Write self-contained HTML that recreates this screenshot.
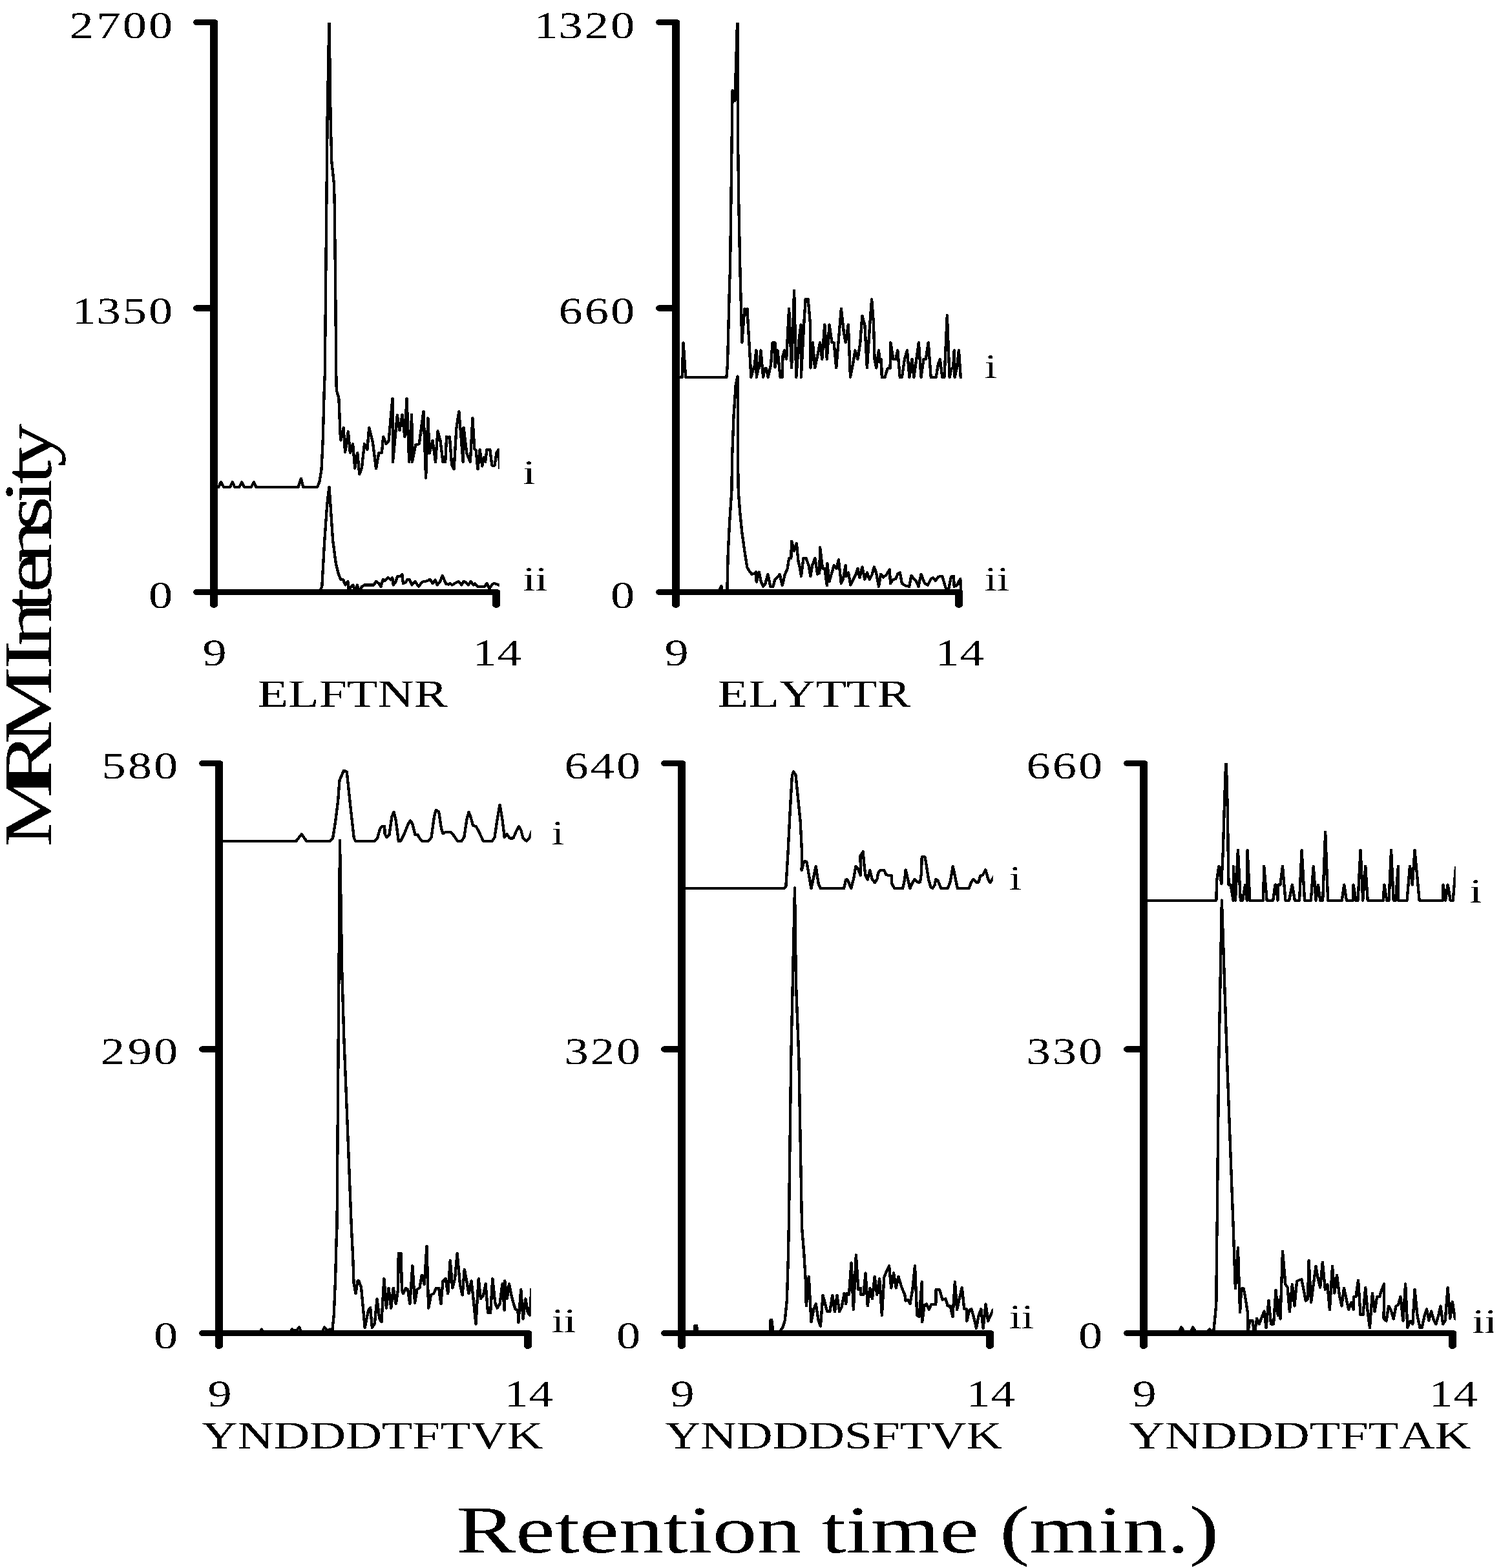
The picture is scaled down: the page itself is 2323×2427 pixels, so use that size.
<!DOCTYPE html>
<html lang="en"><head><meta charset="utf-8"><title>MRM chromatograms</title>
<style>html,body{margin:0;padding:0;background:#fff}body{width:2323px;height:2427px;overflow:hidden}svg{display:block}text{filter:url(#bin);font-family:"Liberation Serif", "DejaVu Serif", serif;fill:#000;white-space:pre;font-kerning:none;font-variant-ligatures:none;text-rendering:geometricPrecision}</style>
</head><body>
<svg xmlns="http://www.w3.org/2000/svg" width="2323" height="2427" viewBox="0 0 2323 2427">
<rect width="2323" height="2427" fill="#fff"/>
<defs>
<clipPath id="c1"><rect x="331" y="35" width="441.8" height="892"/></clipPath>
<clipPath id="c2"><rect x="1046" y="35" width="442.8" height="892"/></clipPath>
<clipPath id="c3"><rect x="339" y="1181" width="482.8" height="892"/></clipPath>
<clipPath id="c4"><rect x="1055" y="1181" width="481.8" height="892"/></clipPath>
<clipPath id="c5"><rect x="1770" y="1181" width="482.8" height="892"/></clipPath>
<clipPath id="cR"><rect x="0" y="0" width="2311.2" height="2427"/></clipPath>
<filter id="bin" x="-5%" y="-5%" width="110%" height="110%" color-interpolation-filters="sRGB"><feComponentTransfer><feFuncA type="discrete" tableValues="0 1"/></feComponentTransfer></filter>
</defs>
<g id="panel1">
<g clip-path="url(#c1)" fill="none" stroke="#000" stroke-width="4.1" stroke-linejoin="round" stroke-linecap="butt" shape-rendering="crispEdges">
<polyline transform="scale(1.06 1)" points="316.96,753.8 319.23,753.8 322.55,746.3 326.77,753.8 335.82,753.8 339.29,746.3 342.61,753.8 349.4,753.8 352.87,746.3 356.49,753.8 366.75,753.8 370.52,746.3 373.99,753.8 435.4,753.8 439.47,740.7 442.64,753.8 463.31,753.8 466.33,746.3 469.34,727.1 471.31,684 472.36,644 473.42,600.8 474.32,580 476.7,320 478.02,179 480.66,25 482.55,179 484.25,250 487.74,285 488.49,320 490,469 490.85,580 491.31,604 494.63,616 495.84,644 496.29,666.4 497.65,681.6 501.57,661.9 503.83,699.9 506.7,682.4 508.36,668 511.23,700.7 515.15,687.1 518.17,724.7 521.94,700.7 524.8,734.3 528.27,723.9 532.05,687.1 536.27,695.9 538.84,661.9 544.12,684 549.09,725.5 553.17,700.7 557.39,700.7 559.66,676 563.73,687.1 567.5,682.4 573.08,616.8 573.54,715.1 580.02,642.4 583.34,666.4 587.42,641.6 590.89,676 593.9,616.8 597.37,715.1 601.15,641.6 601.75,715.1 606.73,688.7 612.01,687.1 618.34,636.8 621.81,739.9 624.83,647.2 627.1,701.5 631.62,681.6 635.85,715.1 639.16,667.2 642.94,682.4 646.71,715.1 650.18,715.1 651.99,676 654.25,677.6 656.52,676 659.53,719.1 662.85,726.3 666.32,663.2 670.09,636.8 676.13,715.1 676.88,661.6 681.41,701.5 686.69,715.1 690.01,647.2 692.72,695.1 694.99,696.7 697.55,726.3 700.57,695.9 704.04,721.5 706.3,707.9 708.57,715.1 710.83,695.9 715.35,695.9 718.37,720.7 722.14,720.7 725.16,699.9 728.18,695.9 729.54,726.3"/>
<polyline transform="scale(1.06 1)" points="312.26,916.6 466.33,916.7 470.1,907.9 473.87,836 477.64,780 480.66,753.6 482.92,788 485.94,836 490.47,872.7 494.33,888.7 497.35,896.7 501.12,897.5 504.14,905.5 507.91,899.9 508.66,915.9 512.43,907.9 515.45,905.5 518.47,915.9 521.49,905.5 524.5,915.9 528.27,907.9 532.05,905.5 545.62,905.5 549.09,899.9 553.17,903.1 556.19,907.9 559.2,896.7 562.22,899.1 566.75,893.9 570.52,897.5 572.78,894.3 574.29,905.5 577.31,901.5 580.33,891.9 584.85,891.9 587.11,888.7 588.62,903.1 592.39,901.5 594.66,896.7 597.68,896.7 601.45,905.5 605.97,899.9 611.25,907.9 616.53,900.7 624.08,899.1 627.85,896.7 631.62,903.1 635.39,897.5 638.41,905.5 642.18,900.7 645.95,891.1 651.23,903.9 655.01,904.7 657.27,903.1 660.29,905.5 664.81,902.3 669.34,899.9 673.87,905.5 676.88,899.9 680.65,901.5 683.67,905.5 687.44,899.9 691.22,905.5 693.48,903.1 697.25,907.9 707.06,907.9 710.83,903.1 714.6,911.1 719.13,903.9 722.14,903.1 728.18,905.5 731.2,905.5"/>
</g>
<g fill="#000" shape-rendering="crispEdges"><path d="M325 30 H332 A5 3.6 0 0 1 337 33.6 V935.8 A6 5.2 0 0 1 325 935.8 Z"/>
<path d="M326 39 H304.6 A5.6 4.5 0 0 1 304.6 30 H326 Z"/>
<path d="M326 482 H305.2 A6.2 5 0 0 1 305.2 472 H326 Z"/>
<path d="M326 921 H304.6 A5.6 4.5 0 0 1 304.6 912 H326 Z"/>
<path d="M336 912 H769 A5 3.6 0 0 1 774 915.6 V935.8 A6 5.2 0 0 1 762 935.8 V921 H336 Z"/></g>
<text transform="translate(109.3 59.2) scale(1.27 1)" font-size="58.6" x="-1.4 31.7 63.3 95">2700</text>
<text transform="translate(109.3 500.8) scale(1.27 1)" font-size="58.6" x="1.7 31.7 63.3 95">1350</text>
<text transform="translate(229.9 941.2) scale(1.27 1)" font-size="58.6" x="0">0</text>
<text transform="translate(313.5 1029.7) scale(1.27 1)" font-size="58.6" x="0">9</text>
<text transform="translate(729.3 1029.7) scale(1.27 1)" font-size="58.6" x="1.7 31.7">14</text>
<text transform="translate(398.5 1093.8) scale(1.294 1)" font-size="60.2">ELFTNR</text>
<text transform="translate(809.6 749.2) scale(1.28 1)" font-size="53">i</text>
<text transform="translate(809.6 914.1) scale(1.28 1)" font-size="53">ii</text>
</g>
<g id="panel2">
<g clip-path="url(#c2)" fill="none" stroke="#000" stroke-width="4.1" stroke-linejoin="round" stroke-linecap="butt" shape-rendering="crispEdges">
<polyline transform="scale(1.06 1)" points="989.8,583.9 995.84,583.9 997.65,530.3 1001.12,583.9 1060.71,583.9 1062.22,563.9 1063.73,500 1065.24,436 1065.99,420 1067.26,320 1069.43,140.2 1073.02,156.2 1076.79,22 1077.26,203.7 1078.68,320 1080.63,420 1081.83,468 1083.34,530.3 1087.11,477.6 1088.62,487.2 1090.89,477.6 1093.9,531.9 1096.62,583.9 1099.94,570.3 1101.15,570.3 1104.16,542.3 1104.46,583.9 1107.48,569.5 1108.24,569.5 1110.8,542.3 1114.27,583.9 1116.53,570.3 1118.8,570.3 1121.36,583.9 1125.59,563.9 1127.85,530.3 1131.62,530.3 1131.62,568.7 1135.39,542.3 1139.16,583.9 1142.18,583.9 1142.94,551.1 1145.2,542.3 1148.22,555.9 1151.99,477.6 1155.76,569.5 1159.53,449.6 1162.55,583.9 1166.32,528.7 1169.34,502.4 1169.64,583.9 1173.87,500 1176.13,463.2 1179.9,463.2 1182.92,500 1183.37,569.5 1186.69,530.3 1189.71,569.5 1193.48,551.1 1197.25,530.3 1200.27,555.9 1204.04,502.4 1207.36,555.9 1210.83,502.4 1214.6,530.3 1217.62,530.3 1220.94,569.5 1225.16,516 1228.18,477.6 1232.15,516 1234.71,530.3 1238.48,502.4 1241.5,583.9 1245.27,563.9 1248.59,542.3 1252.36,555.9 1255.83,531.9 1258.85,488.8 1262.62,503.2 1265.94,569.5 1270.17,500 1272.73,463.2 1275.45,500 1276.96,555.9 1279.52,569.5 1282.99,542.3 1284.5,560.7 1286.76,555.9 1287.52,583.9 1292.04,583.9 1295.82,570.3 1299.59,570.3 1300.34,530.3 1304.11,555.9 1307.89,555.9 1310.6,542.3 1313.92,583.9 1316.94,583.9 1320.71,555.9 1324.48,542.3 1327.8,583.9 1331.57,555.9 1334.29,583.9 1338.06,555.9 1341.38,530.3 1344.85,583.9 1348.62,555.9 1351.64,555.9 1355.41,530.3 1359.18,583.9 1366.73,583.9 1369.74,563.9 1372.46,555.9 1375.78,583.9 1378.79,583.9 1382.87,488 1386.34,583.9 1389.36,570.3 1391.62,570.3 1393.13,542.3 1393.88,583.9 1396.9,570.3 1399.92,542.3 1402.63,583.9 1405.2,583.9"/>
<polyline transform="scale(1.06 1)" points="986.79,916.6 1048.64,916.7 1050.15,913.5 1053.17,907.1 1053.92,916.7 1061.62,916.7 1062.98,856 1065.24,808 1068.26,760 1068.96,708 1071.23,644 1074.25,596 1076.98,582.4 1077.55,724 1078.06,760 1080.33,792 1083.34,824 1087.11,852.8 1090.89,878.3 1094.66,884.7 1097.68,888.7 1101.45,887.9 1103.71,885.5 1104.46,900.7 1108.24,885.5 1111.25,900.7 1114.27,907.9 1117.29,903.9 1121.06,888.7 1124.83,907.9 1128.6,907.9 1131.62,896.7 1134.64,894.3 1138.41,888.7 1142.18,906.3 1145.95,889.5 1149.73,879.9 1151.99,864 1155.01,864 1155.76,837.6 1159.53,852.8 1163,840.8 1165.57,868.7 1167.83,878.3 1169.79,891.9 1173.11,864 1176.88,864 1180.65,875.1 1183.37,891.9 1185.93,875.1 1190.01,864 1193.48,888.7 1196.5,887.1 1197.25,847.2 1201.02,879.9 1204.04,879.9 1207.36,906.3 1207.81,871.9 1210.83,899.9 1214.6,886.3 1217.62,875.1 1221.39,879.9 1224.41,866.3 1228.18,903.1 1231.2,895.9 1234.52,875.1 1235.42,891.9 1238.74,886.3 1241.76,905.5 1245.53,897.5 1249.3,889.5 1252.32,879.9 1255.08,894.3 1258.85,877.5 1262.62,896.7 1265.94,886.3 1269.41,896.7 1273.19,889.5 1276.2,877.5 1279.22,886.3 1282.99,907.9 1286.01,888.7 1289.78,893.5 1294.31,889.5 1298.83,881.5 1300.04,903.1 1303.36,897.5 1307.89,895.9 1310.9,887.9 1313.92,886.3 1316.94,903.1 1321.46,906.3 1327.5,907.9 1330.52,891.1 1337.31,899.1 1341.08,907.9 1344.85,888.7 1350.13,903.1 1354.66,905.5 1359.18,895.9 1362.2,894.3 1365.97,899.1 1369.74,892.7 1375.78,891.9 1380.3,908.7 1384.08,916.7 1388.6,892.7 1392.37,891.9 1393.13,907.9 1396.9,906.3 1402.18,895.9 1402.93,916.7 1405.95,916.7"/>
</g>
<g fill="#000" shape-rendering="crispEdges"><path d="M1040 30 H1047 A5 3.6 0 0 1 1052 33.6 V935.8 A6 5.2 0 0 1 1040 935.8 Z"/>
<path d="M1041 39 H1020.6 A5.6 4.5 0 0 1 1020.6 30 H1041 Z"/>
<path d="M1041 482 H1021.2 A6.2 5 0 0 1 1021.2 472 H1041 Z"/>
<path d="M1041 921 H1020.6 A5.6 4.5 0 0 1 1020.6 912 H1041 Z"/>
<path d="M1051 912 H1485 A5 3.6 0 0 1 1490 915.6 V935.8 A6 5.2 0 0 1 1478 935.8 V921 H1051 Z"/></g>
<text transform="translate(824.3 59.2) scale(1.27 1)" font-size="58.6" x="1.7 31.7 63.3 95">1320</text>
<text transform="translate(864.5 500.8) scale(1.27 1)" font-size="58.6" x="0 31.7 63.3">660</text>
<text transform="translate(944.9 941.2) scale(1.27 1)" font-size="58.6" x="0">0</text>
<text transform="translate(1028.5 1029.7) scale(1.27 1)" font-size="58.6" x="0">9</text>
<text transform="translate(1445.3 1029.7) scale(1.27 1)" font-size="58.6" x="1.7 31.7">14</text>
<text transform="translate(1110.5 1094) scale(1.297 1)" font-size="60.2">ELYTTR</text>
<text transform="translate(1524.1 584.7) scale(1.28 1)" font-size="53">i</text>
<text transform="translate(1524.1 913.5) scale(1.28 1)" font-size="53">ii</text>
</g>
<g id="panel3">
<g clip-path="url(#c3)" fill="none" stroke="#000" stroke-width="4.1" stroke-linejoin="round" stroke-linecap="butt" shape-rendering="crispEdges">
<polyline transform="scale(1.06 1)" points="322.25,1301.9 432.38,1301.9 440.38,1291.1 447.47,1301.9 481.41,1301.9 485.94,1297.5 489.71,1271.9 493.48,1240 495.75,1208 501.78,1192.8 506.31,1194.4 510.83,1240 516.87,1297.5 519.13,1301.9 547.04,1301.9 550.94,1297.5 554.71,1283.1 557.73,1279.1 561.5,1279.1 561.96,1291.1 564.52,1295.9 568.29,1292.7 572.06,1264 575.08,1256.8 578.1,1270.3 581.87,1301.9 584.89,1301.9 589.41,1292.7 596.2,1275.1 599.22,1270.3 602.24,1275.1 606.01,1291.9 609.78,1291.9 613.55,1299.1 616.57,1301.9 625.62,1301.9 629.85,1295.9 633.92,1264 636.64,1253.6 640.71,1256.8 644.48,1283.1 646.74,1290.3 650.52,1287.9 658.06,1287.9 663.34,1294.3 667.87,1301.9 673.9,1301.9 677.67,1295.9 681.44,1268.7 684.46,1256.8 687.48,1265.5 690.5,1277.5 695.02,1279.1 698.8,1286.3 705.58,1301.9 718.41,1301.9 722.18,1295.9 725.95,1268.7 729.72,1245.6 733.5,1268.7 736.51,1295.9 740.28,1291.1 744.06,1297.5 749.34,1297.5 753.86,1286.3 757.63,1279.1 760.65,1284.7 763.67,1297.5 768.95,1301.9 772.72,1297.5 774.98,1291.1 777.25,1284.7"/>
<polyline transform="scale(1.06 1)" points="319.81,2063.5 378.07,2064.7 379.58,2061.5 381.84,2057.5 384.1,2061.5 385.61,2064.7 422.57,2064.7 424.08,2061.5 426.35,2057.5 430.12,2059.9 433.89,2058.3 436.91,2054.3 439.92,2061.5 441.43,2064.7 468.59,2064.7 470.1,2061.5 473.87,2054.3 478.4,2059.9 481.41,2057.5 483.68,2061.5 485.19,2059.1 487.45,2035.9 489.71,1980 491.22,1916 491.98,1900 496.23,1301 499.25,1500 502.17,1606 508.11,1764.5 513.1,1900 515.36,1948 516.57,1986.4 519.43,2002.4 522.15,1982.4 523.96,1982.4 527.43,1992.8 532.71,2055.1 537.99,2027.9 540.71,2023.9 543.27,2055.1 547.04,2048.7 550.49,2010.3 553.96,2040.7 556.98,2046.3 560.75,1979.2 564.07,2024.7 567.54,1993.6 571.01,2024.7 574.33,1993.6 578.1,2018.3 581.12,1996 581.87,1940 585.64,1940 586.7,1996 588.66,2002.4 592.43,1993.6 595.45,1996 598.47,2018.3 602.24,1959.2 605.71,2016.7 609.03,1996 612.8,1992.8 615.82,1973.6 619.59,1988 623.06,1928.8 625.62,2024.7 629.39,2004 633.17,2002.4 636.94,1993.6 640.71,1993.6 643.73,2018.3 646.74,1982.4 650.52,1979.2 653.99,2002.4 657.31,1951.2 660.62,1993.6 664.09,1980 667.56,1940 671.64,1988 675.11,2004.7 678.13,1964.8 681.44,1983.2 684.46,2002.4 688.23,1982.4 691.25,2011.9 694.72,2049.5 698.8,1979.2 701.81,2010.3 705.58,2005.5 709.05,1987.2 712.37,2031.9 716.15,2031.9 719.16,1979.2 722.93,2016.7 725.95,2024.7 729.72,2018.3 733.5,1987.2 736.51,2027.9 736.97,1982.4 740.28,2010.3 743.3,1987.2 747.83,2010.3 752.35,2026.3 756.13,2027.9 756.88,2047.1 760.65,1996 763.67,2041.5 767.44,2010.3 770.46,2031.1 773.48,2035.9 775.89,1994.4"/>
</g>
<g fill="#000" shape-rendering="crispEdges"><path d="M333 1177 H340 A5 3.6 0 0 1 345 1180.6 V2082.8 A6 5.2 0 0 1 333 2082.8 Z"/>
<path d="M334 1186 H313.6 A5.6 4.5 0 0 1 313.6 1177 H334 Z"/>
<path d="M334 1629 H314.2 A6.2 5 0 0 1 314.2 1619 H334 Z"/>
<path d="M334 2068 H313.6 A5.6 4.5 0 0 1 313.6 2059 H334 Z"/>
<path d="M344 2059 H818 A5 3.6 0 0 1 823 2062.6 V2082.8 A6 5.2 0 0 1 811 2082.8 V2068 H344 Z"/></g>
<text transform="translate(157.5 1205) scale(1.27 1)" font-size="58.6" x="0 31.7 63.3">580</text>
<text transform="translate(157.5 1646.6) scale(1.27 1)" font-size="58.6" x="-1.4 31.7 63.3">290</text>
<text transform="translate(237.9 2087) scale(1.27 1)" font-size="58.6" x="0">0</text>
<text transform="translate(321.5 2176.7) scale(1.27 1)" font-size="58.6" x="0">9</text>
<text transform="translate(778.3 2176.7) scale(1.27 1)" font-size="58.6" x="1.7 31.7">14</text>
<text transform="translate(311.7 2242.4) scale(1.2855 1)" font-size="60.2">YNDDDTFTVK</text>
<text transform="translate(854 1306.8) scale(1.28 1)" font-size="53">i</text>
<text transform="translate(854 2062.3) scale(1.28 1)" font-size="53">ii</text>
</g>
<g id="panel4">
<g clip-path="url(#c4)" fill="none" stroke="#000" stroke-width="4.1" stroke-linejoin="round" stroke-linecap="butt" shape-rendering="crispEdges">
<polyline transform="scale(1.06 1)" points="998.09,1375.1 1144.44,1375.1 1147.45,1372.7 1150.47,1319.9 1153.49,1256 1156.51,1200 1158.77,1194.4 1161.79,1200 1165.56,1240 1168.58,1271.9 1170.84,1319.9 1170.39,1347.1 1173.86,1333.5 1177.63,1333.5 1180.65,1351.9 1184.42,1375.1 1188.19,1356.7 1191.21,1340.7 1194.98,1367.9 1198,1375.1 1231.19,1375.1 1232.07,1375.1 1235.09,1361.5 1237.35,1361.5 1242.63,1375.1 1246.4,1359.9 1249.42,1340.7 1252.44,1343.9 1256.51,1355.1 1256.21,1324.7 1259.98,1318.3 1262.24,1343.9 1263.75,1355.1 1266.77,1361.5 1270.09,1347.1 1273.56,1361.5 1277.33,1366.3 1281.1,1359.9 1281.86,1351.9 1284.87,1347.1 1290.91,1347.1 1293.93,1354.3 1301.47,1355.1 1302.22,1367.9 1306,1375.1 1318.06,1375.1 1321.08,1359.9 1322.29,1346.3 1325.61,1361.5 1328.63,1375.1 1332.4,1366.3 1335.41,1360.7 1339.94,1365.5 1343.41,1365.5 1345.22,1351.9 1345.98,1326.3 1350.5,1326.3 1352.77,1340.7 1355.78,1361.5 1358.8,1372.7 1361.52,1375.1 1364.83,1369.5 1366.34,1360.7 1369.36,1363.1 1373.89,1375.1 1383.69,1375.1 1387.47,1364.7 1391.24,1340.7 1395.01,1359.9 1398.03,1375.1 1414.62,1375.1 1418.39,1364.7 1421.41,1360.7 1425.18,1365.5 1428.95,1365.5 1431.22,1355.9 1434.99,1354.3 1439.06,1346.3 1442.53,1359.9 1445.55,1366.3 1449.32,1359.9 1451.59,1355.1"/>
<polyline transform="scale(1.06 1)" points="995.28,2063.5 1013.18,2064.7 1013.93,2061.5 1014.39,2051.9 1016.95,2051.9 1019.21,2064.7 1124.07,2064.7 1125.12,2043.1 1126.63,2043.1 1129.05,2064.7 1137.65,2064.7 1139.16,2059.9 1142.93,2054.3 1145.95,2043.9 1148.96,2011.9 1150.77,1948 1151.68,1900 1155,1635.7 1160.38,1374.3 1162.17,1521 1166.32,1635.7 1170.84,1900 1173.86,1940 1176.12,1980 1177.18,2021.5 1180.95,1976 1184.42,2046.3 1188.19,2026.3 1191.21,2018.3 1194.98,2043.9 1198,2052.7 1201.47,2004.7 1204.78,2018.3 1207.8,2030.3 1211.57,2030.3 1215.35,2004.7 1218.82,2030.3 1222.13,2004.7 1225.6,2030.3 1228.92,2023.1 1232.7,2001.6 1235.09,2018.3 1236.59,2001.6 1239.61,2004 1242.93,1954.4 1246.1,2027.1 1249.87,1942.4 1253.19,1996 1256.51,1993.6 1256.96,2004 1260.73,2004 1263.75,1970.4 1266.77,2021.5 1270.09,1993.6 1273.56,2010.3 1277.03,1976 1280.35,2004 1284.12,1979.2 1287.59,2035.9 1290.91,1976.8 1294.68,1967.2 1298.15,1959.2 1301.17,1993.6 1304.79,1970.4 1308.26,1993.6 1311.73,1976 1316.56,1992.8 1321.08,2004 1322.14,2013.5 1325.61,2011.9 1328.63,2018.3 1332.4,1996 1335.87,1959.2 1338.88,2035.9 1342.2,2038.3 1345.98,1984 1346.43,2046.3 1349.75,2019.9 1352.77,2018.3 1356.54,2027.1 1359.55,2019.1 1366.34,2019.1 1366.65,1996 1371.62,1996 1376.15,2011.9 1380.68,2010.3 1383.69,2021.5 1387.47,2021.5 1390.94,2038.3 1394.25,1984 1397.27,2027.1 1401.04,2008.7 1404.51,1992.8 1407.83,2026.3 1411.6,2026.3 1411.6,2044.7 1415.38,2027.9 1418.39,2026.3 1422.17,2040.7 1425.48,2055.9 1428.95,2035.9 1432.42,2026.3 1435.44,2055.9 1439.21,2018.3 1442.53,2044.7 1446.31,2035.9 1449.32,2028.7 1452.34,2024.7"/>
</g>
<g fill="#000" shape-rendering="crispEdges"><path d="M1049 1177 H1056 A5 3.6 0 0 1 1061 1180.6 V2082.8 A6 5.2 0 0 1 1049 2082.8 Z"/>
<path d="M1050 1186 H1028.6 A5.6 4.5 0 0 1 1028.6 1177 H1050 Z"/>
<path d="M1050 1629 H1029.2 A6.2 5 0 0 1 1029.2 1619 H1050 Z"/>
<path d="M1050 2068 H1028.6 A5.6 4.5 0 0 1 1028.6 2059 H1050 Z"/>
<path d="M1060 2059 H1533 A5 3.6 0 0 1 1538 2062.6 V2082.8 A6 5.2 0 0 1 1526 2082.8 V2068 H1060 Z"/></g>
<text transform="translate(873.5 1205) scale(1.27 1)" font-size="58.6" x="0 31.7 63.3">640</text>
<text transform="translate(873.5 1646.6) scale(1.27 1)" font-size="58.6" x="0 31.7 63.3">320</text>
<text transform="translate(953.9 2087) scale(1.27 1)" font-size="58.6" x="0">0</text>
<text transform="translate(1037.5 2176.7) scale(1.27 1)" font-size="58.6" x="0">9</text>
<text transform="translate(1493.3 2176.7) scale(1.27 1)" font-size="58.6" x="1.7 31.7">14</text>
<text transform="translate(1028.7 2242.4) scale(1.2805 1)" font-size="60.2">YNDDDSFTVK</text>
<text transform="translate(1562.1 1377.2) scale(1.28 1)" font-size="53">i</text>
<text transform="translate(1562.1 2055.9) scale(1.28 1)" font-size="53">ii</text>
</g>
<g id="panel5">
<g clip-path="url(#c5)" fill="none" stroke="#000" stroke-width="4.1" stroke-linejoin="round" stroke-linecap="butt" shape-rendering="crispEdges">
<polyline transform="scale(1.06 1)" points="1672.43,1393.8 1775.78,1393.8 1776.53,1363.1 1779.55,1340.7 1783.32,1367.9 1785.58,1319.9 1787.85,1240 1790.11,1169.6 1792.37,1256 1793.13,1319.9 1793.88,1369.5 1796.9,1369.5 1800.67,1393.8 1800.67,1340.7 1803.69,1393.8 1807.46,1315.9 1811.23,1393.8 1814.25,1393.8 1818.02,1369.5 1820.58,1393.8 1821.34,1315.9 1824.81,1393.8 1844.42,1393.8 1845.48,1340.7 1849.7,1393.8 1858.75,1393.8 1861.77,1369.5 1863.28,1369.5 1865.54,1393.8 1865.85,1369.5 1869.32,1369.5 1872.63,1340.7 1876.86,1393.8 1882.14,1393.8 1886.67,1369.5 1890.44,1393.8 1897.23,1393.8 1900.55,1315.9 1904.77,1393.8 1906.41,1393.8 1913.95,1393.8 1917.72,1340.7 1921.19,1393.8 1924.51,1369.5 1927.53,1393.8 1931.3,1393.8 1935.07,1287.9 1938.84,1393.8 1959.21,1393.8 1962.53,1369.5 1966,1393.8 1975.81,1393.8 1976.11,1369.5 1979.58,1393.8 1982.6,1393.8 1986.37,1315.9 1989.84,1393.8 1993.61,1340.7 1996.93,1393.8 2019.56,1393.8 2021.07,1369.5 2024.84,1393.8 2027.86,1393.8 2031.18,1315.9 2034.65,1393.8 2037.66,1393.8 2041.44,1340.7 2041.74,1393.8 2054.26,1393.8 2058.48,1340.7 2062.1,1369.5 2065.57,1315.9 2072.36,1393.8 2106.31,1393.8 2107.06,1369.5 2110.38,1393.8 2113.85,1369.5 2117.63,1393.8 2121.4,1393.8 2125.62,1340.7"/>
<polyline transform="scale(1.06 1)" points="1669.81,2063.5 1719.95,2064.7 1721.46,2061.5 1724.93,2054.3 1729.01,2061.5 1730.06,2064.7 1736.55,2064.7 1738.06,2061.5 1741.83,2054.3 1745.6,2061.5 1746.66,2064.7 1762.2,2064.7 1763.71,2059.9 1765.97,2057.5 1768.23,2059.9 1772,2059.9 1774.27,2035.9 1775.78,2018.3 1776.53,1924 1776.98,1900 1779.43,1645.5 1783.87,1393.4 1791.7,1645.5 1800.67,1900 1802.18,1948 1803.69,1994.4 1807.46,1931.2 1810.48,2031.1 1812.44,1994.4 1815.76,1994.4 1818.77,2011.9 1821.79,2032.7 1821.49,2064.7 1824.81,2043.9 1828.58,2043.9 1831.6,2064.7 1835.07,2040.7 1838.39,2049.5 1842.16,2039.1 1845.63,2029.5 1848.65,2055.1 1852.27,2012.7 1855.74,2049.5 1859.51,2049.5 1862.83,1996.8 1865.85,2035.9 1867.81,2011.9 1869.32,2041.5 1872.63,1936.8 1876.86,1988 1879.88,1992.8 1882.89,2030.3 1886.67,1988 1889.98,2021.5 1893.45,1983.2 1900.24,1980 1903.39,1996 1906.41,2013.5 1909.42,2010.3 1910.93,1951.2 1914.25,2015.9 1917.72,1988 1921.19,1960 1924.51,1980 1927.53,1992.8 1931,1953.6 1934.77,1996 1938.09,1988 1941.41,2027.1 1945.33,1960 1948.35,2001.6 1951.97,1973.6 1955.44,2004 1958.91,2021.5 1962.23,1993.6 1966,2011.9 1969.02,2027.1 1972.79,2015.9 1976.11,2027.1 1976.56,2007.1 1979.58,2007.1 1983.05,1981.6 1986.37,2035.1 1990.14,2035.1 1993.61,1992.8 1996.93,2031.1 1999.95,2055.1 2003.72,2001.6 2007.04,2030.3 2010.51,2007.1 2014.28,2007.1 2017.3,1996 2021.07,1987.2 2020.31,2040.7 2024.09,2044.7 2027.4,2021.5 2030.87,2027.9 2034.65,2041.5 2038.12,2021.5 2041.44,2019.9 2044.75,2007.1 2048.53,2044.7 2052,1987.2 2055.01,2055.1 2058.79,2044.7 2062.56,2049.5 2065.57,1996 2069.35,2035.9 2073.12,2055.1 2076.14,2055.1 2079.91,2035.9 2082.92,2026.3 2086.24,2043.9 2089.71,2029.5 2093.49,2043.9 2096.5,2049.5 2100.27,2035.9 2103.29,2021.5 2106.76,2049.5 2110.08,2043.9 2113.85,1992.8 2117.17,2040.7 2120.64,2015.1 2124.41,2041.5 2127.43,2041.5"/>
</g>
<g fill="#000" shape-rendering="crispEdges"><path d="M1764 1177 H1771 A5 3.6 0 0 1 1776 1180.6 V2082.8 A6 5.2 0 0 1 1764 2082.8 Z"/>
<path d="M1765 1186 H1744.6 A5.6 4.5 0 0 1 1744.6 1177 H1765 Z"/>
<path d="M1765 1629 H1745.2 A6.2 5 0 0 1 1745.2 1619 H1765 Z"/>
<path d="M1765 2068 H1744.6 A5.6 4.5 0 0 1 1744.6 2059 H1765 Z"/>
<path d="M1775 2059 H2249 A5 3.6 0 0 1 2254 2062.6 V2082.8 A6 5.2 0 0 1 2242 2082.8 V2068 H1775 Z"/></g>
<text transform="translate(1588.5 1205) scale(1.27 1)" font-size="58.6" x="0 31.7 63.3">660</text>
<text transform="translate(1588.5 1646.6) scale(1.27 1)" font-size="58.6" x="0 31.7 63.3">330</text>
<text transform="translate(1668.9 2087) scale(1.27 1)" font-size="58.6" x="0">0</text>
<text transform="translate(1752.5 2176.7) scale(1.27 1)" font-size="58.6" x="0">9</text>
<text transform="translate(2209.3 2176.7) scale(1.27 1)" font-size="58.6" x="1.7 31.7">14</text>
<text transform="translate(1746.9 2242.4) scale(1.288 1)" font-size="60.2">YNDDDTFTAK</text>
<text transform="translate(2274.8 1397) scale(1.28 1)" font-size="53">i</text>
<g clip-path="url(#cR)"><text transform="translate(2278.8 2063.1) scale(1.28 1)" font-size="53">ii</text></g>
</g>
<text transform="translate(706.5 2402.6) scale(1.3195 1)" font-size="104">Retention<tspan dx="-2.4"> </tspan>time<tspan dx="-1.7"> </tspan>(min.)</text>
<text transform="translate(78.9 1312.4) rotate(-90) scale(1.281516587677725 1)" font-size="105.5" x="0.8 69.5 124.9 195.1 215.5 243.6 284.5 308.2 343.2 383.9 416.1 439.3 459.9">MRM Intensity</text>
</svg></body></html>
